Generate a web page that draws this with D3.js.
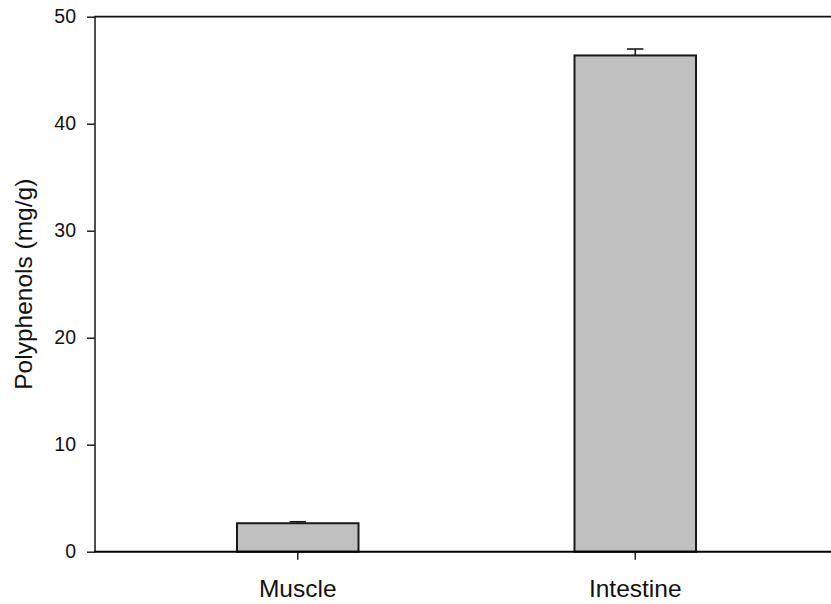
<!DOCTYPE html>
<html>
<head>
<meta charset="utf-8">
<script src="https://cdn.jsdelivr.net/npm/d3@7"></script>
<style>
  html, body { margin: 0; padding: 0; background: #fff; }
  svg { display: block; }
  text { font-family: "Liberation Sans", Arial, sans-serif; fill: #111; }
</style>
</head>
<body>
<svg id="chart" width="831" height="604"></svg>
<script>
const categories = ["Muscle", "Intestine"];
const values = [2.66, 46.38];
const errors = [0.14, 0.6];
const yTicks = [0, 10, 20, 30, 40, 50];
const yTitle = "Polyphenols (mg/g)";

const plotLeft = 95, plotRight = 831, plotTop = 16.7, plotBottom = 551.7;

const svg = d3.select("#chart");

const y = d3.scaleLinear().domain([0, 50]).range([plotBottom, plotTop]);
const x = d3.scaleBand().domain(categories).range([102, 831])
  .paddingInner(0.64).paddingOuter(0.4);

// Bars
svg.append("g").selectAll("rect").data(categories).join("rect")
  .attr("x", d => x(d))
  .attr("y", (d, i) => y(values[i]))
  .attr("width", x.bandwidth())
  .attr("height", (d, i) => y(0) - y(values[i]))
  .attr("fill", "#c0c0c0")
  .attr("stroke", "#1a1a1a")
  .attr("stroke-width", 2);

// Error bars (upper only)
const eb = svg.append("g").attr("stroke", "#1a1a1a").attr("stroke-width", 1.6);
categories.forEach((c, i) => {
  const cx = x(c) + x.bandwidth() / 2;
  eb.append("line").attr("x1", cx).attr("x2", cx)
    .attr("y1", y(values[i])).attr("y2", y(values[i] + errors[i]));
  eb.append("line").attr("x1", cx - 8.2).attr("x2", cx + 8.2)
    .attr("y1", y(values[i] + errors[i])).attr("y2", y(values[i] + errors[i]));
});

// Y axis
const yAxis = svg.append("g").attr("transform", `translate(${plotLeft},0)`)
  .call(d3.axisLeft(y).tickValues(yTicks).tickSize(8).tickPadding(11).tickFormat(d3.format("d")));
yAxis.select(".domain").remove();
yAxis.selectAll(".tick line").attr("stroke", "#222").attr("stroke-width", 1.5);
yAxis.selectAll(".tick text").attr("font-size", "19.5px").attr("fill", "#111")
  .style("font-family", "'Liberation Sans', Arial, sans-serif");
svg.append("line").attr("x1", plotLeft).attr("x2", plotLeft).attr("y1", plotTop).attr("y2", plotBottom)
  .attr("stroke", "#222").attr("stroke-width", 1.6);

// X axis
const xAxis = svg.append("g").attr("transform", `translate(0,${plotBottom})`)
  .call(d3.axisBottom(x).tickSize(8).tickPadding(20));
xAxis.select(".domain").remove();
xAxis.selectAll(".tick line").attr("stroke", "#222").attr("stroke-width", 1.5);
xAxis.selectAll(".tick text").attr("font-size", "24.5px").attr("fill", "#111")
  .style("font-family", "'Liberation Sans', Arial, sans-serif");

svg.append("line").attr("x1", plotLeft - 0.8).attr("x2", plotRight).attr("y1", plotBottom).attr("y2", plotBottom)
  .attr("stroke", "#000").attr("stroke-width", 2);
// Top frame line
svg.append("line").attr("x1", plotLeft - 0.8).attr("x2", plotRight).attr("y1", plotTop).attr("y2", plotTop)
  .attr("stroke", "#111").attr("stroke-width", 1.8);

// Y title
svg.append("text")
  .attr("transform", `translate(31.5,${(plotTop + plotBottom) / 2}) rotate(-90)`)
  .attr("text-anchor", "middle")
  .attr("font-size", "24.5px")
  .text(yTitle);
</script>
</body>
</html>
